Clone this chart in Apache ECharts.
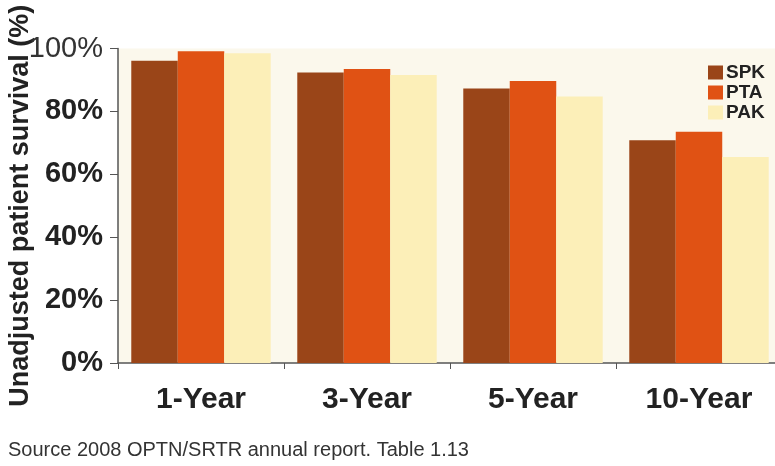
<!DOCTYPE html>
<html>
<head>
<meta charset="utf-8">
<script src="https://cdn.jsdelivr.net/npm/echarts@6/dist/echarts.min.js"></script>
<style>
  html, body { margin: 0; padding: 0; background: #fff; }
  #chart { width: 775px; height: 466px; }
</style>
</head>
<body>
<div id="chart"></div>
<script>
// 数据
const categories = ["1-Year", "3-Year", "5-Year", "10-Year"];
const spk = [96.1, 92.4, 87.3, 70.8];
const pta = [99.1, 93.5, 89.7, 73.5];
const pak = [98.5, 91.6, 84.7, 65.5];
const yTicks = [0, 20, 40, 60, 80, 100];

const chart = echarts.init(document.getElementById("chart"));
const font = "'Liberation Sans', Arial, sans-serif";

const option = {
  backgroundColor: "#fff",
  textStyle: { fontFamily: font },
  grid: {
    left: 118,
    top: 48.5,
    width: 664,
    bottom: 103,
    outerBoundsMode: "none",
    containLabel: false,
    show: true,
    backgroundColor: "#fbf8ec",
    borderWidth: 0,
  },
  legend: {
    orient: "vertical",
    left: 708,
    top: 63,
    padding: 0,
    itemWidth: 15,
    itemHeight: 14,
    itemGap: 1,
    icon: "rect",
    textStyle: { fontSize: 19, fontWeight: "bold", color: "#222", fontFamily: font, padding: [0, 0, 0, -2] },
  },
  graphic: [
    {
      type: "text",
      left: 8,
      top: 440,
      style: {
        text: "Source 2008 OPTN/SRTR annual report. Table 1.13",
        font: "20px " + font,
        fill: "#333",
      },
    },
  ],
  xAxis: {
    type: "category",
    data: categories,
    axisLine: { lineStyle: { color: "#555", width: 1.5 } },
    axisTick: { show: true, length: 6, lineStyle: { color: "#555" } },
    axisLabel: { fontSize: 30, fontWeight: "bold", color: "#222", margin: 22 },
  },
  yAxis: {
    type: "value",
    min: 0,
    max: 100,
    interval: 20,
    name: "Unadjusted patient survival (%)",
    nameLocation: "middle",
    nameGap: 84,
    nameMoveOverlap: false,
    nameTextStyle: { fontSize: 27, fontWeight: "bold", color: "#222" },
    splitLine: { show: false },
    axisLine: { show: true, lineStyle: { color: "#555", width: 1.5 } },
    axisTick: { show: true, length: 8, lineStyle: { color: "#555" } },
    axisLabel: {
      margin: 15,
      formatter: (v) => (yTicks.includes(v) ? (v === 100 ? "{t|" + v + "%}" : "{b|" + v + "%}") : ""),
      rich: {
        b: { fontSize: 29, fontWeight: "bold", color: "#222", fontFamily: font },
        t: { fontSize: 29, fontWeight: "normal", color: "#333", fontFamily: font },
      },
    },
  },
  series: [
    { name: "SPK", type: "bar", data: spk, barGap: "0%", barCategoryGap: "16%", itemStyle: { color: "#9a4518" } },
    { name: "PTA", type: "bar", data: pta, itemStyle: { color: "#e05214" } },
    { name: "PAK", type: "bar", data: pak, itemStyle: { color: "#fcefb8" } },
  ],
};

chart.setOption(option);
</script>
</body>
</html>
